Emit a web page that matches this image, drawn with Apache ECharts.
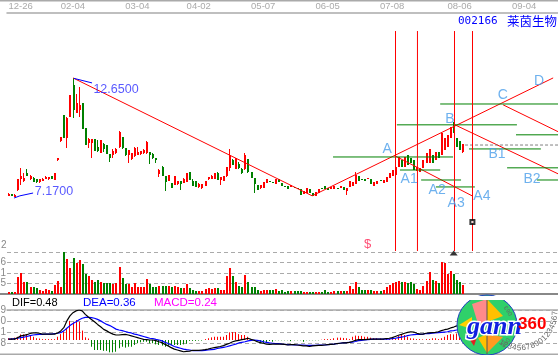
<!DOCTYPE html>
<html>
<head>
<meta charset="utf-8">
<style>html,body{margin:0;padding:0;background:#fff}#main{width:558px;height:355px}</style>
<script src="https://cdn.jsdelivr.net/npm/echarts@6/dist/echarts.min.js"></script>
</head>
<body>
<div id="main"></div>
<script>
var tickIndex = [0, 17, 38, 58, 79, 100, 121, 143, 164];
var tickLabels = ['12-26', '02-04', '03-04', '04-02', '05-07', '06-05', '07-08', '08-06', '09-04'];

var opens = [7.22,7.31,7.17,7.49,8.00,7.91,8.28,8.00,8.04,8.00,
  7.86,7.91,8.00,8.00,8.14,7.95,8.87,9.75,10.95,9.89,
  10.85,12.33,11.04,11.18,11.50,10.35,9.66,9.66,9.84,9.47,
  9.20,9.61,9.56,9.15,9.10,9.20,9.47,9.93,9.43,9.10,
  8.92,9.06,9.10,9.15,9.20,9.20,9.24,9.15,8.97,8.23,
  8.55,8.14,7.91,7.81,7.72,7.77,7.91,7.81,7.86,8.32,
  7.91,7.91,7.63,7.58,7.68,8.00,8.00,8.00,8.28,7.95,
  7.91,8.14,8.51,8.87,8.46,8.69,8.46,8.46,8.92,8.32,
  8.04,7.72,7.58,7.58,7.81,7.91,7.86,7.77,8.00,7.81,
  7.68,7.68,7.63,7.63,7.58,7.54,7.31,7.35,7.54,7.35,
  7.22,7.35,7.58,7.68,7.58,7.54,7.54,7.58,7.58,7.63,
  7.45,7.63,7.68,7.77,8.14,8.00,8.00,8.00,8.00,7.68,
  7.77,7.95,7.81,7.86,8.04,8.14,8.18,8.55,8.87,8.55,
  9.10,8.97,8.87,8.37,8.32,8.51,8.74,8.74,9.10,8.87,
  9.24,9.10,9.33,9.47,9.89,10.62,9.89,9.75,9.24];
var closes = [7.31,7.22,7.26,8.00,8.14,8.04,8.14,8.14,7.86,7.86,
  8.00,8.00,8.09,8.09,8.00,8.28,8.97,9.93,9.89,10.81,
  11.87,11.18,11.50,11.41,10.30,9.56,9.84,9.84,9.29,9.29,
  9.79,9.38,9.15,8.97,9.29,9.38,10.16,9.43,9.10,9.33,
  9.20,9.43,9.24,9.29,9.33,9.70,9.10,8.97,8.87,8.41,
  8.14,7.86,8.18,7.58,8.14,7.91,7.77,8.00,8.28,7.95,
  7.68,7.63,7.77,7.77,7.91,8.09,8.14,8.28,7.95,8.09,
  8.14,8.55,9.10,8.64,8.97,8.51,8.28,9.10,8.32,8.04,
  7.77,7.49,7.72,7.86,8.00,7.86,7.81,8.00,7.86,7.68,
  7.63,7.54,7.72,7.58,7.54,7.26,7.45,7.58,7.35,7.22,
  7.40,7.54,7.54,7.54,7.49,7.63,7.68,7.54,7.68,7.49,
  7.58,7.91,7.86,8.18,7.91,7.95,7.91,8.04,7.77,7.86,
  7.91,7.91,7.95,8.09,8.28,8.41,8.55,9.01,8.55,9.01,
  8.64,8.74,8.41,8.55,8.51,8.87,9.20,9.38,8.74,9.24,
  8.97,10.12,9.89,10.03,10.39,10.12,9.47,9.33,9.61];
var lows = [7.20,7.20,7.17,7.45,7.72,7.86,8.14,7.95,7.86,7.81,
  7.81,7.91,8.00,7.95,8.00,7.95,8.83,9.70,9.89,9.43,
  10.85,10.81,11.04,10.85,10.30,9.56,9.43,8.97,9.29,9.24,
  9.20,9.24,9.15,8.78,8.97,9.15,9.43,9.38,9.06,8.74,
  8.87,9.01,9.10,9.10,9.15,9.15,8.69,8.92,8.74,8.09,
  8.14,7.45,7.91,7.58,7.72,7.72,7.49,7.81,7.86,7.95,
  7.68,7.63,7.58,7.54,7.68,7.95,8.00,8.00,7.95,7.72,
  7.91,8.09,8.37,8.64,8.46,8.46,8.23,8.41,8.28,8.04,
  7.35,7.49,7.54,7.58,7.81,7.86,7.81,7.77,7.86,7.68,
  7.63,7.54,7.63,7.58,7.54,7.26,7.31,7.35,7.35,7.22,
  7.22,7.35,7.54,7.54,7.49,7.54,7.54,7.54,7.58,7.49,
  7.26,7.63,7.68,7.77,7.91,7.95,7.91,8.00,7.77,7.68,
  7.77,7.91,7.81,7.86,8.04,8.14,8.18,8.55,8.55,8.55,
  8.64,8.74,8.41,8.37,8.32,8.51,8.74,8.74,8.74,8.87,
  8.97,9.10,9.33,9.47,9.89,10.12,9.47,9.33,9.20];
var highs = [7.33,7.31,7.30,8.00,8.51,8.28,8.46,8.18,8.09,8.00,
  8.00,8.04,8.14,8.09,8.14,8.28,8.97,9.93,10.95,10.85,
  11.87,12.65,11.91,12.24,11.50,10.35,9.89,9.84,9.84,9.79,
  9.79,9.66,9.56,9.15,9.38,9.43,10.20,9.93,9.43,9.33,
  9.20,9.47,9.47,9.29,9.38,9.75,9.24,9.20,8.97,8.46,
  8.60,8.14,8.18,7.81,8.14,7.91,7.91,8.04,8.28,8.32,
  8.00,7.91,7.81,7.77,7.91,8.09,8.18,8.28,8.32,8.09,
  8.14,8.55,9.38,8.92,8.97,8.78,8.51,9.20,8.92,8.32,
  8.04,7.72,7.72,7.86,8.00,7.91,7.86,8.00,8.00,7.81,
  7.68,7.68,7.72,7.63,7.58,7.54,7.45,7.58,7.54,7.35,
  7.40,7.54,7.58,7.68,7.58,7.63,7.68,7.58,7.68,7.63,
  7.58,7.91,7.86,8.32,8.14,8.00,8.00,8.04,8.00,7.86,
  7.91,7.95,7.95,8.09,8.28,8.41,8.55,9.01,8.87,9.01,
  9.10,8.97,8.87,8.55,8.51,8.87,9.20,9.38,9.10,9.24,
  9.24,10.12,9.89,10.03,10.39,10.62,9.89,9.75,9.61];

var volumes = [2,2,2,17,21,12,12,7,7,6,
  4,3,5,4,3,9,13,7,42,35,
  26,36,31,34,30,20,18,14,12,14,
  12,11,11,11,10,11,27,16,10,10,
  7,11,7,7,7,15,10,7,7,8,
  8,8,8,7,8,7,6,6,10,6,
  4,3,3,3,5,6,5,6,6,4,
  4,18,26,18,12,8,7,19,12,7,
  7,4,3,4,4,4,4,5,3,4,
  2,3,3,3,3,3,2,2,2,2,
  2,2,2,4,2,2,3,3,3,3,
  3,8,5,12,7,4,4,4,4,3,
  3,3,4,7,9,11,12,13,12,12,
  11,12,10,5,4,8,13,22,14,13,
  11,32,31,20,23,20,14,12,9];
var volumeLabels = ['', '5', '1', '6', ''];

var dif = [.03,.03,.03,.08,.14,.16,.18,.22,.24,.24,
  .23,.20,.20,.20,.20,.20,.24,.31,.42,.65,
  .82,.93,.99,1.02,.99,.87,.78,.70,.62,.53,
  .45,.36,.31,.25,.20,.17,.17,.18,.19,.17,
  .14,.11,.08,.05,.02,.01,0,0,-.02,-.06,
  -.09,-.15,-.20,-.26,-.31,-.34,-.37,-.40,-.39,-.38,
  -.35,-.35,-.35,-.34,-.33,-.31,-.28,-.26,-.24,-.22,
  -.19,-.15,-.11,-.06,-.03,-.01,.01,.03,.06,.02,
  -.01,-.06,-.09,-.11,-.14,-.15,-.14,-.14,-.14,-.14,
  -.15,-.17,-.16,-.16,-.17,-.18,-.20,-.20,-.22,-.20,
  -.19,-.18,-.18,-.17,-.16,-.15,-.14,-.12,-.11,-.10,
  -.10,-.08,-.05,-.01,.01,.01,.01,.02,.03,.03,
  .03,.03,.03,.05,.06,.08,.12,.16,.19,.23,
  .26,.28,.27,.23,.20,.20,.23,.24,.25,.26,
  .28,.32,.35,.37,.41,.44,.48,.49,.48];
var dea = [.03,.03,.05,.06,.08,.10,.12,.15,.17,.18,
  .19,.19,.20,.20,.20,.22,.23,.25,.31,.40,
  .49,.56,.62,.69,.74,.77,.77,.76,.74,.70,
  .65,.59,.53,.49,.43,.37,.34,.32,.29,.26,
  .24,.20,.18,.15,.12,.09,.06,.05,.02,0,
  -.03,-.08,-.12,-.17,-.22,-.25,-.28,-.31,-.33,-.34,
  -.36,-.36,-.36,-.36,-.35,-.34,-.33,-.32,-.29,-.27,
  -.25,-.23,-.20,-.17,-.14,-.10,-.08,-.06,-.03,-.01,
  0,-.01,-.03,-.06,-.08,-.10,-.11,-.12,-.12,-.14,
  -.15,-.16,-.16,-.17,-.17,-.17,-.17,-.18,-.18,-.18,
  -.18,-.17,-.17,-.17,-.16,-.15,-.14,-.12,-.11,-.10,
  -.09,-.08,-.07,-.05,-.02,-.01,0,.01,.02,.03,
  .03,.03,.03,.03,.03,.05,.06,.08,.10,.12,
  .15,.17,.18,.19,.19,.20,.22,.22,.23,.24,
  .25,.26,.27,.28,.31,.32,.34,.35,.36];
var macd = [.06,.06,.08,.11,.19,.19,.20,.17,.11,.06,
  .05,.03,.03,.03,.03,.03,.11,.20,.28,.40,
  .65,.60,.68,.62,.32,.09,.05,-.23,-.34,-.34,
  -.34,-.37,-.37,-.42,-.42,-.40,-.28,-.23,-.26,-.23,
  -.23,-.17,-.11,-.08,-.06,-.06,-.11,-.11,-.15,-.17,
  -.19,-.23,-.19,-.17,-.17,-.17,-.17,-.15,-.13,-.03,
  -.03,-.03,-.02,-.02,.03,.06,.09,.11,.11,.11,
  .11,.17,.26,.27,.27,.20,.17,.17,.11,.03,
  -.01,-.06,-.11,-.11,-.08,-.03,-.06,-.01,-.01,-.01,
  -.01,-.01,-.04,-.01,-.01,-.01,-.06,-.01,-.01,-.01,
  -.01,-.01,.01,.03,.03,.03,.06,.08,.08,.07,
  .06,.03,.11,.15,.14,.14,.11,.11,.08,.06,
  .06,.05,.03,.03,.03,.03,.05,.14,.17,.17,
  .11,.06,.05,.03,.03,.02,.03,.03,.06,.06,
  .03,.06,.11,.17,.20,.19,.22,.24,.24];
var macdLabels = ['', '8', '1', '0', '9'];

// drawn lines, in bar number and price
var trendLines = [[21.0,12.65,98.9,7.22],[98.9,7.22,177.4,12.65],[125.9,9.06,151.0,7.22],[145.4,10.49,179.5,8.2],[161.1,11.41,179.5,10.14]];
var pointerLines = [[[21.3,12.63],[27.2,12.42]],[[1.8,7.12],[3.7,7.22],[8.0,7.35]]];
var levelLines = [[105.7,144.8,9.01],[126.5,165.6,10.49],[140.6,179.5,11.45],[165.3,179.5,10.03],[150,173.4,9.38],[127.5,140.6,8.41],[134.4,147.4,7.95],[139.2,151.9,7.63],[162.4,179.5,8.51],[172.1,179.5,7.95]];
var dashedLevel = [148.7, 179.5, 9.56];
var timeLines = [126.05, 133.2, 145.27, 151.13];
var timeLineTop = 14.81, timeLineBottom = 4.68;
var priceNotes = [['12.6500',35,12.10],['7.1700',14.8,7.40]];
var waveNotes = [['A',123.3,9.38],['A1',130.5,8.00],['A2',139.6,7.49],['A3',145.8,6.89],['A4',154.2,7.22],['B',143.8,10.76],['B1',159.1,9.15],['B2',170.5,8.00],['C',161,11.87],['D',172.8,12.51]];

var barCount = 180;
var categories = [];
for (var i = 0; i < barCount; i++) categories.push(i);
var RED = '#ff0000', GREEN = '#008000';
var myChart = echarts.init(document.getElementById('main'), null, {renderer: 'canvas'});

function signColor(up) { return up ? RED : GREEN; }
function lineSeries(points, color, width, dashed) {
    return {
        type: 'line', xAxisIndex: 1, yAxisIndex: 0, data: points, showSymbol: false, symbol: 'none',
        silent: true, z: 5, lineStyle: {color: color, width: width, type: dashed ? [3, 2] : 'solid'}
    };
}
function noteSeries(notes, color, size, font) {
    return {
        type: 'scatter', xAxisIndex: 1, yAxisIndex: 0, symbolSize: 0, silent: true, z: 6,
        data: notes.map(function (n) { return {value: [n[1], n[2]], name: n[0]}; }),
        label: {show: true, position: 'inside', formatter: '{b}', color: color, fontSize: size, fontFamily: font}
    };
}

var series = [
    {
        // snapped to whole pixels so the bodies stay full colour
        type: 'custom', xAxisIndex: 0, yAxisIndex: 0, silent: true, z: 3,
        data: opens.map(function (o, k) { return [k, o, closes[k], lows[k], highs[k]]; }),
        renderItem: function (params, api) {
            var k = api.value(0), up = api.value(2) >= api.value(1);
            var color = signColor(up);
            var a = api.coord([k, api.value(1)]), b = api.coord([k, api.value(2)]);
            var lo = api.coord([k, api.value(3)]), hi = api.coord([k, api.value(4)]);
            var x = Math.floor(a[0]);
            var top = Math.round(Math.min(a[1], b[1]));
            var h = Math.max(1, Math.round(Math.abs(a[1] - b[1])));
            return {
                type: 'group',
                children: [
                    {type: 'rect', shape: {x: x, y: Math.round(hi[1]), width: 1, height: Math.max(1, Math.round(lo[1] - hi[1]))}, style: {fill: color}},
                    {type: 'rect', shape: {x: x, y: top, width: 2, height: h}, style: {fill: color}}
                ]
            };
        }
    },
    {
        type: 'custom', xAxisIndex: 2, yAxisIndex: 1, silent: true,
        data: volumes.map(function (v, k) { return [k, v, closes[k] >= opens[k] ? 1 : 0]; }),
        renderItem: function (params, api) {
            var top = api.coord([api.value(0), api.value(1)]);
            var base = api.coord([api.value(0), 0]);
            return {
                type: 'rect',
                shape: {x: Math.floor(top[0]), y: Math.round(top[1]), width: 2, height: Math.round(base[1] - top[1])},
                style: {fill: signColor(api.value(2) === 1)}
            };
        }
    },
    {
        // one pixel sticks
        type: 'custom', xAxisIndex: 3, yAxisIndex: 2, silent: true, z: 3,
        data: macd.map(function (v, k) { return [k, v]; }),
        renderItem: function (params, api) {
            var top = api.coord([api.value(0), api.value(1)]);
            var base = api.coord([api.value(0), 0]);
            var x = Math.floor(top[0]) + 0.5;
            return {
                type: 'line', shape: {x1: x, y1: base[1], x2: x, y2: top[1]},
                style: {stroke: signColor(api.value(1) >= 0), lineWidth: 1}
            };
        }
    },
    {type: 'line', xAxisIndex: 3, yAxisIndex: 2, data: dea, symbol: 'none', silent: true, z: 4, lineStyle: {color: '#0000ff', width: 1.2}},
    {type: 'line', xAxisIndex: 3, yAxisIndex: 2, data: dif, symbol: 'none', silent: true, z: 4, lineStyle: {color: '#000000', width: 1.2}}
];
trendLines.forEach(function (t) { series.push(lineSeries([[t[0], t[1]], [t[2], t[3]]], RED, 1)); });
pointerLines.forEach(function (p) { series.push(lineSeries(p, '#0000ff', 1)); });
levelLines.forEach(function (l) { series.push(lineSeries([[l[0], l[2]], [l[1], l[2]]], GREEN, 1)); });
series.push(lineSeries([[dashedLevel[0], dashedLevel[2]], [dashedLevel[1], dashedLevel[2]]], '#808080', 1, true));
timeLines.forEach(function (x) { series.push(lineSeries([[x, timeLineTop], [x, timeLineBottom]], RED, 1)); });
series.push(noteSeries(priceNotes, '#3030ff', 12.5, '"Liberation Sans"'));
series.push(noteSeries(waveNotes, '#4a9eea', 14, '"Liberation Sans"'));
series.push(noteSeries([['$', 117, 4.96]], '#ff2050', 13, '"Liberation Sans"'));
series.push({
    type: 'scatter', xAxisIndex: 1, yAxisIndex: 0, symbol: 'rect', symbolSize: 4, silent: true, z: 6,
    data: [[151.1, 6.02]], itemStyle: {color: '#fff', borderColor: '#000', borderWidth: 2}
});
series.push({
    type: 'scatter', xAxisIndex: 2, yAxisIndex: 1, symbol: 'triangle', symbolSize: [8, 5], silent: true, clip: false, z: 6,
    data: [[145, 41]], itemStyle: {color: '#000'}
});

function hiddenCategory(gridIndex) {
    return {type: 'category', gridIndex: gridIndex, data: categories, show: false};
}

// ring of small digits around the logo
function ringDigits(text, cx, cy, r, start, step, size) {
    return text.split('').map(function (ch, k) {
        var a = (start + step * k) * Math.PI / 180;
        return {
            type: 'text', z: 22, x: cx + r * Math.cos(a), y: cy + r * Math.sin(a),
            rotation: (90 - (start + step * k)) * Math.PI / 180,
            style: {text: ch, fill: '#666', font: size + 'px "Liberation Sans"', align: 'center', verticalAlign: 'middle'}
        };
    });
}
function poly(points, fill) {
    return {type: 'polygon', z: 21, shape: {points: points}, style: {fill: fill}};
}
function headText(text, x, y, color, font, extra) {
    return {type: 'text', z: 10, x: x, y: y, style: Object.assign({text: text, fill: color, font: font, verticalAlign: 'middle'}, extra || {})};
}

var AXIS_FONT = '"Liberation Sans"';
var graphic = [
    {type: 'rect', z: 1, shape: {x: 0, y: 0, width: 558, height: 1.5}, style: {fill: '#aaa'}},
    {type: 'rect', z: 1, shape: {x: 0, y: 293, width: 558, height: 2}, style: {fill: '#888'}},
    {type: 'rect', z: 1, shape: {x: 0, y: 353.5, width: 558, height: 1.5}, style: {fill: '#aaa'}},
    headText('002166', 458, 21, '#0000ff', '11px "DejaVu Sans Mono"'),
    headText('莱茵生物', 507, 21, '#0000ff', '12.5px "Noto Sans CJK SC"'),
    headText('DIF=0.48', 12, 303, '#000', '11px "Liberation Sans"'),
    headText('DEA=0.36', 83, 303, '#0000ff', '11.5px "Liberation Sans"'),
    headText('MACD=0.24', 154, 303, '#ff00ff', '11.5px "Liberation Sans"'),
    headText('2', 1, 245, '#888', '10px "Liberation Sans"'),
    {type: 'circle', z: 20, shape: {cx: 487, cy: 325, r: 30}, style: {fill: '#2fd06a', stroke: '#2040c0', lineWidth: 1}},
    poly([[472, 304], [487, 299], [487, 324], [478, 324]], '#ff8a8a'),
    poly([[487, 299], [503, 316], [487, 322]], '#ffc000'),
    poly([[459, 325], [472, 317], [472, 329]], '#ffd000'),
    poly([[487, 353], [478, 338], [487, 334]], '#ffc000'),
    poly([[487, 353], [503, 337], [487, 334]], '#ff9a20'),
    poly([[470, 340], [477, 337], [474, 346]], '#e02020'),
    {type: 'line', z: 21, shape: {x1: 487, y1: 297, x2: 487, y2: 354}, style: {stroke: '#555', lineWidth: 1}},
    {type: 'rect', z: 21, shape: {x: 450, y: 296, width: 62, height: 4}, style: {fill: '#fff'}},
    {type: 'text', z: 23, x: 467, y: 327, style: {text: 'gann', fill: '#1020e0', stroke: '#fff', lineWidth: 3, font: 'italic bold 26px "Liberation Serif"', verticalAlign: 'middle'}},
    {type: 'text', z: 23, x: 518, y: 324, style: {text: '360', fill: '#ff0000', font: 'bold 17px "Liberation Sans"', verticalAlign: 'middle'}}
].concat(ringDigits('12345678901234567', 520, 313, 35, 122, -7.6, 8))
 .concat(ringDigits('360', 487, 325, 26, -42, 8, 6))
 .concat(ringDigits('360', 487, 325, 26, 52, -8, 6));

myChart.setOption({
    animation: false,
    backgroundColor: '#fff',
    tooltip: {show: false},
    grid: [
        {left: 7, top: 13, width: 552.6, height: 238, outerBoundsMode: 'none'},
        {left: 7, top: 252, width: 552.6, height: 42, outerBoundsMode: 'none'},
        {left: 7, top: 310, width: 552.6, height: 44, outerBoundsMode: 'none'}
    ],
    xAxis: [
        {
            type: 'category', gridIndex: 0, data: categories, position: 'top',
            axisLine: {lineStyle: {color: '#aaa', width: 1.5}}, axisTick: {show: false},
            axisLabel: {
                interval: 0, margin: 2, align: 'left', color: '#aaa', fontSize: 9.5, fontFamily: AXIS_FONT, showMinLabel: true, showMaxLabel: true,
                formatter: function (v, k) { var n = tickIndex.indexOf(k); return n < 0 ? '' : tickLabels[n]; }
            }
        },
        {type: 'value', gridIndex: 0, min: -0.5, max: 179.5, show: false},
        hiddenCategory(1),
        hiddenCategory(2),
        {
            type: 'category', gridIndex: 2, data: categories, position: 'top',
            axisLine: {onZero: false, lineStyle: {color: '#aaa', width: 1.5}}, axisTick: {show: false}, axisLabel: {show: false}
        }
    ],
    yAxis: [
        {type: 'value', gridIndex: 0, min: 4.68, max: 15.64, show: false},
        {
            type: 'value', gridIndex: 1, min: 0, max: 42, interval: 10.5,
            axisLine: {show: false}, axisTick: {show: false},
            splitLine: {lineStyle: {color: '#aaa', type: [4, 3], width: 1}},
            axisLabel: {margin: 1, color: '#888', fontSize: 10, fontFamily: AXIS_FONT, formatter: function (v) { return volumeLabels[Math.round(v / 10.5)]; }}
        },
        {
            type: 'value', gridIndex: 2, min: -0.476, max: 1.02, interval: 0.374,
            axisLine: {show: false}, axisTick: {show: false},
            splitLine: {lineStyle: {color: '#aaa', type: [4, 3], width: 1}},
            axisLabel: {margin: 1, color: '#888', fontSize: 10, fontFamily: AXIS_FONT, formatter: function (v) { return macdLabels[Math.round((v + 0.476) / 0.374)]; }}
        }
    ],
    series: series,
    graphic: graphic
});
</script>
</body>
</html>
